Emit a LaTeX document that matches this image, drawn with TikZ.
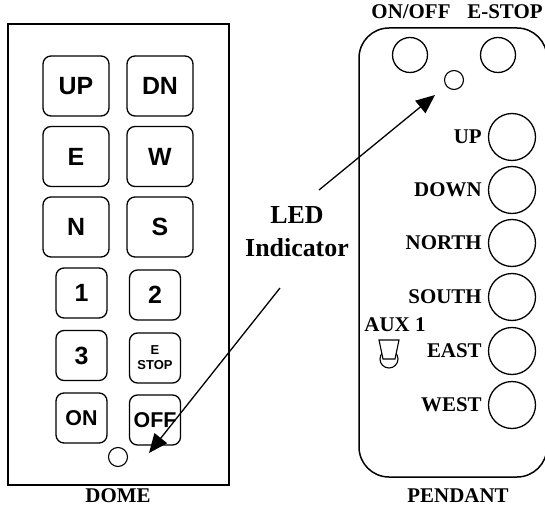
\documentclass[tikz,border=0pt]{standalone}
\usepackage{fontspec}
\setmainfont{Liberation Serif}
\newfontfamily\keyfont{Liberation Sans}
\usetikzlibrary{positioning,arrows.meta}

\tikzset{
  domekey/.style={draw,rounded corners=8bp,line width=1.3bp,inner sep=0pt,
    minimum width=66bp,minimum height=60bp,
    font=\keyfont\bfseries\fontsize{25}{25}\selectfont},
  smallkey/.style={domekey,minimum width=51bp,minimum height=50bp},
  padbtn/.style={draw,circle,line width=1.3bp,minimum size=47bp,inner sep=0pt},
  topbtn/.style={padbtn,minimum size=35bp},
  ledlamp/.style={draw,circle,line width=1.1bp,minimum size=19bp,inner sep=0pt},
  padlabel/.style={inner sep=0pt,font=\bfseries\fontsize{21}{21}\selectfont},
  ledarrow/.style={line width=1.3bp,-{Triangle[length=19bp,width=16bp]}}
}

\begin{document}
\begin{tikzpicture}[x=1bp,y=-1bp]
  \useasboundingbox (0,0) rectangle (545,507);

  % dome panel
  \draw[line width=1.5bp] (8,24) rectangle (229,485);
  \node[domekey] (up) at (76,86) {UP};
  \node[domekey] (dn) at (160,86) {DN};
  \node[domekey] (e) at (76,156.5) {E};
  \node[domekey] (w) at (160,156.5) {W};
  \node[domekey] (n) at (76,227) {N};
  \node[domekey] (s) at (160,227) {S};
  \node[smallkey] (one) at (81.5,293) {1};
  \node[smallkey] (two) at (155,295) {2};
  \node[smallkey] (three) at (81.5,355.5) {3};
  \node[smallkey,align=center,font=\keyfont\bfseries\fontsize{13}{15}\selectfont] (estop) at (155,358) {E\\STOP};
  \node[smallkey,font=\keyfont\bfseries\fontsize{21.5}{21.5}\selectfont] (on) at (81.5,418) {ON};
  \node[smallkey,font=\keyfont\bfseries\fontsize{21.5}{21.5}\selectfont] (off) at (155,420) {OFF};
  \node[ledlamp] (domeled) at (118,457) {};
  \node[padlabel] (dome) at (118,496) {DOME};

  % pendant
  \draw[line width=1.5bp,rounded corners=30bp] (359,28) rectangle (547,477);
  \node[padlabel] (onofftxt) at (411,12) {ON/OFF};
  \node[padlabel] (estoptxt) at (505,12) {E-STOP};
  \node[topbtn] (onoff) at (410,55) {};
  \node[topbtn] (stop) at (498,55) {};
  \node[ledlamp] (padled) at (454,80) {};

  \node[padbtn] (pup) at (512,137) {};
  \node[padbtn] (pdown) at (512,190) {};
  \node[padbtn] (pnorth) at (512,243) {};
  \node[padbtn] (psouth) at (512,297) {};
  \node[padbtn] (peast) at (512,351) {};
  \node[padbtn] (pwest) at (512,405) {};
  \node[padlabel,left=6bp of pup] {UP};
  \node[padlabel,left=6bp of pdown] {DOWN};
  \node[padlabel,left=6bp of pnorth] {NORTH};
  \node[padlabel,left=6bp of psouth] {SOUTH};
  \node[padlabel,left=6bp of peast] {EAST};
  \node[padlabel,left=6bp of pwest] {WEST};

  \node[padlabel] (aux) at (395,325) {AUX 1};
  \draw[line width=1.1bp] (389,359) circle (9);
  \draw[line width=1.1bp,fill=white] (379,340) -- (399,340) -- (395,359) -- (383,359) -- cycle;
  \node[padlabel] (pendant) at (458,496) {PENDANT};

  % label and pointers
  \node[align=center,inner sep=0pt,font=\bfseries\fontsize{26}{33}\selectfont] (ledtxt) at (297,232) {LED\\Indicator};
  \coordinate (tailA) at (280,288);
  \coordinate (tipA) at (149,453);
  \coordinate (tailB) at (319,190);
  \coordinate (tipB) at (435,95);
  \draw[ledarrow] (tailA) -- (tipA);
  \draw[ledarrow] (tailB) -- (tipB);
\end{tikzpicture}
\end{document}
